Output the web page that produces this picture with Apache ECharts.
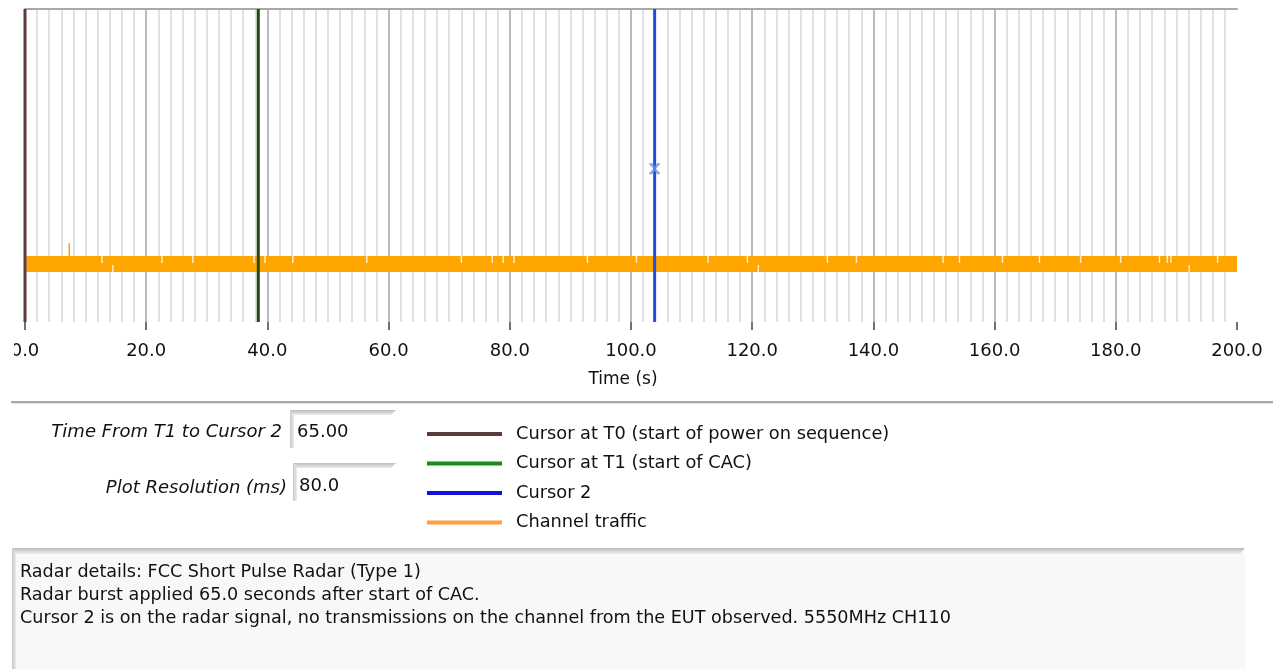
<!DOCTYPE html>
<html>
<head>
<meta charset="utf-8">
<script src="https://cdn.jsdelivr.net/npm/echarts@6/dist/echarts.min.js"></script>
<style>
  html, body { margin: 0; padding: 0; background: #fff; }
  #chart { width: 1273px; height: 669px; }
</style>
</head>
<body>
<div id="chart"></div>
<script>
// time axis (s)
const xMin = 0, xMax = 200, xStep = 20;

// cursor positions (s)
const cursorT0 = 0.0;
const cursorT1 = 38.5;
const cursor2 = 103.9;
const cursor2Mark = 49;

// channel traffic trace: level, span and the small spike near the start
const trafficLevel = 18.5;
const trafficSpan = [0.2, 200];
const trafficSpike = [[7.3, 20.8], [7.3, 25.2]];

// short gaps in the trace (s), top half and bottom half of the band
const gapsHigh = [12.7, 22.6, 27.7, 37.8, 39.6, 44.2, 56.4, 72.0, 77.1, 78.9, 80.7,
  92.8, 100.9, 112.7, 119.2, 132.4, 137.2, 151.5, 154.2, 161.3, 167.4, 174.2,
  180.8, 187.2, 188.5, 189.1, 196.8];
const gapsLow = [14.5, 121.0, 192.1];
const gapHighLevel = 20.0, gapLowLevel = 17.1;

const legendNames = ['Cursor at T0 (start of power on sequence)', 'Cursor at T1 (start of CAC)', 'Cursor 2', 'Channel traffic'];
const legendColors = ['#5a3a3a', '#1a8a1a', '#1212dc', '#ffa040'];

const fieldLabels = ['Time From T1 to Cursor 2', 'Plot Resolution (ms)'];
const fieldValues = ['65.00', '80.0'];

const infoLines = [
  'Radar details: FCC Short Pulse Radar (Type 1)',
  'Radar burst applied 65.0 seconds after start of CAC.',
  'Cursor 2 is on the radar signal, no transmissions on the channel from the EUT observed. 5550MHz CH110'
];

const FONT = '"DejaVu Sans", Verdana, sans-serif';
const chart = echarts.init(document.getElementById('chart'));

// sunken text field like the LabVIEW controls
function field(x, y, w, h) {
  return [
    { type: 'rect', shape: { x: x, y: y, width: w, height: h }, style: { fill: '#fff' } },
    { type: 'polygon', shape: { points: [[x, y], [x + w, y], [x + w - 5, y + 5], [x + 4, y + 5]] },
      style: { fill: new echarts.graphic.LinearGradient(0, 0, 0, 1, [{ offset: 0, color: '#bdbdbd' }, { offset: 1, color: '#ececec' }]) } },
    { type: 'polygon', shape: { points: [[x, y], [x + 4, y + 5], [x + 4, y + h], [x, y + h]] },
      style: { fill: new echarts.graphic.LinearGradient(0, 0, 1, 0, [{ offset: 0, color: '#c8c8c8' }, { offset: 1, color: '#ededed' }]) } }
  ];
}

function cursorLine(name, x, color) {
  return {
    name: name, type: 'line', data: [[x, 0], [x, 100]],
    symbol: 'none', clip: false, z: 5,
    lineStyle: { color: color, width: 3 }, itemStyle: { color: color },
    emphasis: { disabled: true }
  };
}

// major grid lines, none drawn at the right edge
const majorColors = [];
for (let v = xMin; v <= xMax; v += xStep) majorColors.push(v < xMax ? '#a4a4a4' : 'rgba(0,0,0,0)');

const graphics = [
  // separator under the plot
  { type: 'rect', shape: { x: 11, y: 401, width: 1262, height: 2 }, style: { fill: '#a8a8a8' } },
  { type: 'rect', shape: { x: 11, y: 403, width: 1262, height: 1 }, style: { fill: '#e2e2e2' } },
  // the panel edge cuts the first tick label
  { type: 'rect', z: 100, shape: { x: 0, y: 340, width: 14, height: 28 }, style: { fill: '#fff' } }
]
  .concat(field(290, 410, 106, 38))
  .concat(field(293, 463, 103, 38))
  .concat([
    { type: 'text', style: { text: fieldLabels[0], x: 282, y: 432, textAlign: 'right', textVerticalAlign: 'middle', font: 'italic 18px ' + FONT, fill: '#111' } },
    { type: 'text', style: { text: fieldValues[0], x: 297, y: 432, textVerticalAlign: 'middle', font: '18px ' + FONT, fill: '#111' } },
    { type: 'text', style: { text: fieldLabels[1], x: 287, y: 488, textAlign: 'right', textVerticalAlign: 'middle', font: 'italic 18px ' + FONT, fill: '#111' } },
    { type: 'text', style: { text: fieldValues[1], x: 299, y: 486, textVerticalAlign: 'middle', font: '18px ' + FONT, fill: '#111' } },
    // info box
    { type: 'rect', shape: { x: 12, y: 548, width: 1233, height: 121 }, style: { fill: '#f8f8f8' } },
    { type: 'polygon', shape: { points: [[12, 548], [1245, 548], [1240, 554], [16, 554]] },
      style: { fill: new echarts.graphic.LinearGradient(0, 0, 0, 1, [{ offset: 0, color: '#bcbcbc' }, { offset: 1, color: '#eeeeee' }]) } },
    { type: 'polygon', shape: { points: [[12, 548], [16, 554], [16, 669], [12, 669]] },
      style: { fill: new echarts.graphic.LinearGradient(0, 0, 1, 0, [{ offset: 0, color: '#c4c4c4' }, { offset: 1, color: '#ececec' }]) } }
  ])
  .concat(infoLines.map((t, i) => ({
    type: 'text', style: { text: t, x: 20, y: 572 + i * 23, textVerticalAlign: 'middle', font: '17.6px ' + FONT, fill: '#111' }
  })));

chart.setOption({
  animation: false,
  backgroundColor: '#fff',
  grid: { left: 25, right: 36, top: 9, bottom: 347 },
  xAxis: [{
    type: 'value', min: xMin, max: xMax, interval: xStep,
    offset: 8,
    name: 'Time (s)', nameLocation: 'middle', nameGap: 41,
    nameTextStyle: { fontFamily: FONT, fontSize: 17, color: '#111', padding: [0, 16, 0, 0] },
    axisLine: { show: false },
    axisTick: { show: true, length: 8, lineStyle: { color: '#444', width: 1.5 } },
    axisLabel: { margin: 12, fontFamily: FONT, fontSize: 18, color: '#111', formatter: v => v.toFixed(1) },
    splitLine: { show: true, lineStyle: { color: majorColors, width: 1.5 } },
    minorTick: { show: false, splitNumber: 10 },
    minorSplitLine: { show: true, lineStyle: { color: '#d6d6d6', width: 1.5 } }
  }, {
    type: 'value', min: xMin, max: xMax, position: 'top',
    axisLine: { show: true, lineStyle: { color: '#a8a8a8', width: 2 } },
    axisTick: { show: false }, axisLabel: { show: false }, splitLine: { show: false }
  }],
  yAxis: { type: 'value', min: 0, max: 100, show: false },
  legend: {
    orient: 'vertical', left: 422, top: 420,
    icon: 'rect', itemWidth: 75, itemHeight: 4, itemGap: 11.5,
    selectedMode: false,
    textStyle: { fontFamily: FONT, fontSize: 17.8, color: '#111', padding: [0, 0, 0, 9] },
    data: legendNames.map((n, i) => ({ name: n, itemStyle: { color: legendColors[i] } }))
  },
  graphic: graphics,
  series: [
    {
      name: legendNames[3], type: 'line', z: 2,
      data: [[trafficSpan[0], trafficLevel], [trafficSpan[1], trafficLevel]],
      symbol: 'none', lineStyle: { color: '#ffa500', width: 16, cap: 'butt' }, itemStyle: { color: '#ffa500' }
    },
    {
      type: 'line', z: 2, data: trafficSpike, symbol: 'none',
      lineStyle: { color: '#ffa500', width: 1.5 }
    },
    {
      type: 'scatter', z: 3, symbol: 'rect', symbolSize: [1.5, 7],
      itemStyle: { color: '#fff' }, data: gapsHigh.map(t => [t, gapHighLevel])
    },
    {
      type: 'scatter', z: 3, symbol: 'rect', symbolSize: [1.5, 7],
      itemStyle: { color: '#fff' }, data: gapsLow.map(t => [t, gapLowLevel])
    },
    cursorLine(legendNames[0], cursorT0, '#5c3b3b'),
    cursorLine(legendNames[1], cursorT1, '#1e4c12'),
    cursorLine(legendNames[2], cursor2, '#1c4fe0'),
    {
      type: 'scatter', z: 6, data: [[cursor2, cursor2Mark]],
      symbol: 'path://M0,0L3,0L5,3L7,0L10,0L10,1L6,5L10,9L10,10L7,10L5,7L3,10L0,10L0,9L4,5L0,1Z',
      symbolSize: 11, itemStyle: { color: '#6d90e8' }
    }
  ]
});
</script>
</body>
</html>
